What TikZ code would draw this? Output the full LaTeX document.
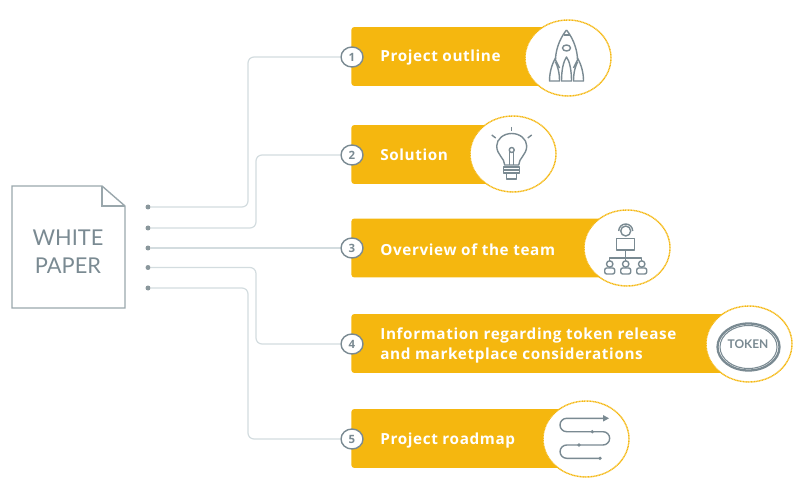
\documentclass[tikz,border=0pt]{standalone}
\usepackage{fontspec}
\usepackage{tikz}
\usetikzlibrary{shapes.geometric}
\usetikzlibrary{math}
\newfontfamily\barfont[LetterSpace=4]{Open Sans}
\newfontfamily\docfont{Lato}
\definecolor{barcol}{HTML}{F5B70F}
\definecolor{wirecol}{HTML}{D3DCDF}
\definecolor{iconcol}{HTML}{7A8A92}
\definecolor{dotcol}{HTML}{8A979C}
\definecolor{doccol}{HTML}{9AA7AC}
\tikzset{
	wire/.style = {draw=wirecol, line width=.7pt, rounded corners=1.2mm},
	wiredot/.style = {circle, fill=dotcol, inner sep=0pt, minimum size=.1cm},
	barbox/.style = {rectangle, fill=barcol, rounded corners=.6mm, inner sep=0pt, minimum height=1.18cm, anchor=west},
	barlabel/.style = {anchor=west, text=white, inner sep=0pt, align=left, font=\barfont\bfseries\fontsize{8.7}{11.4}\selectfont},
	numnode/.style = {ellipse, draw=iconcol, fill=white, line width=.8pt, inner sep=0pt, minimum width=.44cm, minimum height=.4cm, text=iconcol, font=\barfont\bfseries\fontsize{6.5}{7}\selectfont},
	iconring/.style = {ellipse, draw=barcol, dash pattern=on .6pt off .3pt, fill=white, line width=.8pt, inner sep=0pt, minimum width=1.72cm, minimum height=1.52cm},
	icon/.style = {draw=iconcol, line width=.8pt, line join=round}
}
\begin{document}
\begin{tikzpicture}[x=.02cm, y=-.02cm]
	\useasboundingbox (0,0) rectangle (800,479);

	\draw [draw=doccol, line width=.8pt] (12,186) -- (102,186) -- (125,206) -- (125,308) -- (12,308) -- cycle;
	\draw [draw=doccol, line width=.8pt] (102,186) -- (102,206) -- (125,206);
	\node [text=iconcol, align=center, inner sep=0pt, font=\docfont\fontsize{12.4}{16}\selectfont] (paper) at (68,252) {WHITE\\PAPER};

	\node [barbox, minimum width=4.3cm] (bar1) at (351,56.5) {};
	\node [barbox, minimum width=3.2cm] (bar2) at (351,154.5) {};
	\node [barbox, minimum width=5.5cm] (bar3) at (351,248) {};
	\node [barbox, minimum width=7.9cm] (bar4) at (351,343.5) {};
	\node [barbox, minimum width=4.7cm] (bar5) at (351,438.5) {};

	\node [iconring] (ring1) at (568,58) {};
	\node [iconring] (ring2) at (513,154) {};
	\node [iconring] (ring3) at (627,248) {};
	\node [iconring] (ring4) at (749,344) {};
	\node [iconring] (ring5) at (586,439) {};

	\node [barlabel] (lab1) at (380,58) {Project outline};
	\node [barlabel] (lab2) at (380,155) {Solution};
	\node [barlabel] (lab3) at (380,249.5) {Overview of the team};
	\node [barlabel] (lab4) at (380,345.5) {Information regarding token release\\and marketplace considerations};
	\node [barlabel] (lab5) at (380,440.5) {Project roadmap};

	\node [numnode] (num1) at (352,57) {1};
	\node [numnode] (num2) at (352,155) {2};
	\node [numnode] (num3) at (352,248) {3};
	\node [numnode] (num4) at (352,344) {4};
	\node [numnode] (num5) at (352,439) {5};

	\node [wiredot] (dot1) at (148,207) {};
	\node [wiredot] (dot2) at (148,228) {};
	\node [wiredot] (dot3) at (148,248) {};
	\node [wiredot] (dot4) at (148,267.5) {};
	\node [wiredot] (dot5) at (148,288) {};

	\coordinate (bend1) at (248,57);
	\coordinate (bend2) at (256,155);
	\coordinate (bend4) at (256,344);
	\coordinate (bend5) at (248,439);
	\draw [wire] (dot1) -| (bend1) -- (num1);
	\draw [wire] (dot2) -| (bend2) -- (num2);
	\draw [wire] (dot3) -- (num3);
	\draw [wire] (dot4) -| (bend4) -- (num4);
	\draw [wire] (dot5) -| (bend5) -- (num5);

	\tikzmath{\x1 = 566.5;};
	\draw [icon] (\x1,30) .. controls (\x1-8,40) and (\x1-11,52) .. (\x1-11,60) -- (\x1-7,68);
	\draw [icon] (\x1,30) .. controls (\x1+8,40) and (\x1+11,52) .. (\x1+11,60) -- (\x1+7,68);
	\draw [icon] (\x1-3,35) -- (\x1+3,35);
	\draw [icon] (\x1,48) ellipse (4 and 3);
	\draw [icon] (\x1-11,58) .. controls (\x1-15,65) and (\x1-17,73) .. (\x1-17,81) -- (\x1-7,81) .. controls (\x1-7,72) and (\x1-9,66) .. (\x1-11,62);
	\draw [icon] (\x1+11,58) .. controls (\x1+15,65) and (\x1+17,73) .. (\x1+17,81) -- (\x1+7,81) .. controls (\x1+7,72) and (\x1+9,66) .. (\x1+11,62);
	\draw [icon] (\x1-5,81) .. controls (\x1-5,70) and (\x1-3,61) .. (\x1,57) .. controls (\x1+3,61) and (\x1+5,70) .. (\x1+5,81) -- cycle;

	\tikzmath{\x1 = 511.7;};
	\draw [icon] (\x1-7,165) .. controls (\x1-7,158) and (\x1-15,155) .. (\x1-15,146) arc (180:360:15 and 12.5) .. controls (\x1+15,155) and (\x1+7,158) .. (\x1+7,165) -- cycle;
	\draw [icon] (\x1,150) circle (2.5);
	\draw [icon] (\x1-2,152) -- (\x1-2,165);
	\draw [icon] (\x1+2,152) -- (\x1+2,165);
	\draw [icon] (\x1-8,167) rectangle (\x1+8,173);
	\draw [icon] (\x1-8,170) -- (\x1+8,170);
	\draw [icon] (\x1-5,173) -- (\x1-5,179) -- (\x1+5,179) -- (\x1+5,173);
	\draw [icon] (\x1,127) -- (\x1,131);
	\draw [icon] (\x1-20,135) -- (\x1-16,138);
	\draw [icon] (\x1+20,135) -- (\x1+16,138);

	\tikzmath{\x1 = 625.7;};
	\draw [icon] (\x1,231) circle (5);
	\draw [icon] (\x1-7,231) arc (180:360:7 and 7);
	\draw [icon] (\x1-9,238.5) rectangle (\x1+9,250);
	\draw [icon] (\x1,250) -- (\x1,258);
	\draw [icon] (\x1-16,261) -- (\x1-16,258) -- (\x1+16,258) -- (\x1+16,261);
	\draw [icon] (\x1,258) -- (\x1,261);
	\draw [icon] (\x1-16,264) circle (3.2);
	\draw [icon] (\x1,264) circle (3.2);
	\draw [icon] (\x1+16,264) circle (3.2);
	\draw [icon, rounded corners=.4mm] (\x1-21,274) rectangle (\x1-11,268);
	\draw [icon, rounded corners=.4mm] (\x1-5,274) rectangle (\x1+5,268);
	\draw [icon, rounded corners=.4mm] (\x1+11,274) rectangle (\x1+21,268);

	\draw [draw=iconcol, line width=1.3pt] (748.5,347) ellipse (31 and 23.5);
	\draw [draw=iconcol, line width=.6pt] (748.5,347) ellipse (28.5 and 21.5);
	\node [text=iconcol, inner sep=0pt, font=\docfont\bfseries\fontsize{6.8}{9}\selectfont] (token) at (748,344) {TOKEN};

	\coordinate (roadend) at (600,458.3);
	\draw [icon] (603,418.3) -- (566.7,418.3) arc (270:90:6.7) -- (603,431.7) arc (-90:90:6.65) -- (566.7,445) arc (270:90:6.65) -- (roadend);
	\fill [iconcol] (603,415) -- (609,418.3) -- (603,421.6) -- cycle;
	\fill [iconcol] (roadend) circle (1.8);
	\fill [iconcol] (592.3,431.7) circle (1.8);
	\fill [iconcol] (579,445) circle (1.8);

\end{tikzpicture}
\end{document}
